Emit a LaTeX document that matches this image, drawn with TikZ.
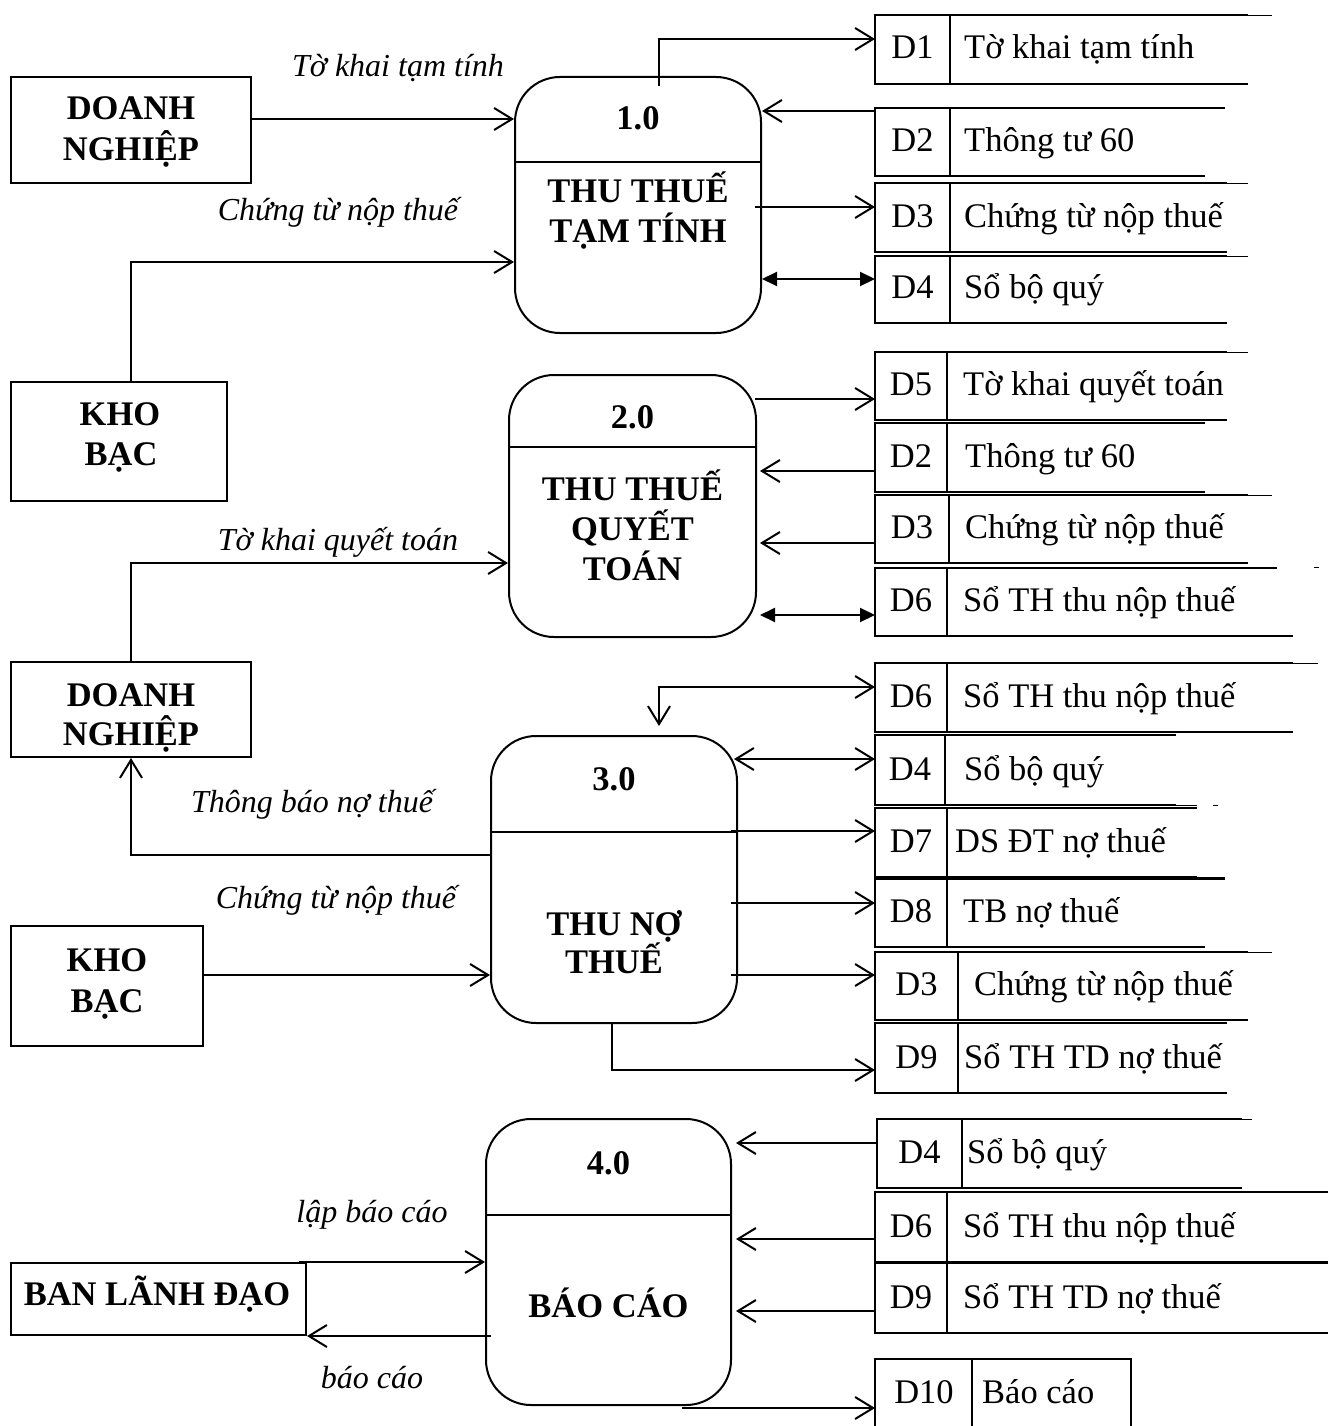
\documentclass[tikz,border=0pt]{standalone}
\usepackage{fontspec}
\setmainfont{Liberation Serif}
\usetikzlibrary{arrows.meta,calc}

% data store: name, left, top, bottom, divider x, top-line end, bottom-line end, id, title
\newcommand\dstore[9]{%
  \node[inner sep=0pt, outer sep=0pt, minimum width={(#6-#2)*1pt},
        minimum height={(#4-#3)*1pt}, anchor=north west] (#1) at (#2,#3) {};
  \draw[ln] (#6,#3) -- (#2,#3) -- (#2,#4) -- (#7,#4);
  \draw[ln] (#5,#3) -- (#5,#4);
  \node[txt, anchor=base] (#1id) at ({(#2+#5)/2},{#4-25}) {#8};
  \node[txt, anchor=base west] (#1tx) at ({#5+16},{#4-25}) {#9};
}

\begin{document}
\begin{tikzpicture}[x=1pt, y=-1pt,
  ln/.style={line width=2pt},
  thinln/.style={line width=0.9pt},
  ent/.style={draw, line width=2pt, inner sep=0pt},
  proc/.style={draw, line width=2pt, rounded corners=45pt, inner sep=0pt},
  txt/.style={font=\fontsize{34.5}{40}\selectfont, inner sep=0pt},
  btxt/.style={font=\fontsize{34.5}{40}\selectfont\bfseries, inner sep=0pt, anchor=base},
  lbl/.style={font=\fontsize{32}{38}\selectfont\itshape, inner sep=0pt, anchor=base},
  flow/.style={line width=2pt, -{Straight Barb[length=18pt,width=22pt]}},
  flowboth/.style={line width=2pt,
     {Straight Barb[length=18pt,width=22pt]}-{Straight Barb[length=18pt,width=22pt]}},
  flowfill/.style={line width=2pt,
     {Triangle[length=15pt,width=14pt]}-{Triangle[length=15pt,width=14pt]}},
]
\fill[white] (0,0) rectangle (1328,1426);
\useasboundingbox (0,0) rectangle (1328,1426);

% ---------- external entities ----------
\node[ent, minimum width=240pt, minimum height=106pt] (e1) at (131,130) {};
\node[btxt] (e1a) at (131,120) {DOANH};
\node[btxt] (e1b) at (131,160) {NGHIỆP};

\node[ent, minimum width=216pt, minimum height=119pt] (e2) at (119,441.5) {};
\node[btxt] (e2a) at (120,425) {KHO};
\node[btxt] (e2b) at (121,465) {BẠC};

\node[ent, minimum width=240pt, minimum height=95pt] (e3) at (131,709.5) {};
\node[btxt] (e3a) at (131,706) {DOANH};
\node[btxt] (e3b) at (131,745) {NGHIỆP};

\node[ent, minimum width=192pt, minimum height=120pt] (e4) at (107,986) {};
\node[btxt] (e4a) at (107,971) {KHO};
\node[btxt] (e4b) at (107,1012) {BẠC};

\node[ent, minimum width=295pt, minimum height=72pt] (e5) at (158.5,1299) {};
\node[btxt] (e5a) at (157,1305) {BAN LÃNH ĐẠO};

% ---------- processes ----------
\node[proc, minimum width=246pt, minimum height=256pt] (p1) at (638,205) {};
\draw[ln] (515,162) -- (761,162);
\node[btxt] (p1n) at (638,130) {1.0};
\node[btxt] (p1a) at (638,202) {THU THUẾ};
\node[btxt] (p1b) at (638,242) {TẠM TÍNH};

\node[proc, minimum width=247pt, minimum height=262pt] (p2) at (632.5,506) {};
\draw[ln] (509,447) -- (756,447);
\node[btxt] (p2n) at (632.5,428) {2.0};
\node[btxt] (p2a) at (632.5,500) {THU THUẾ};
\node[btxt] (p2b) at (632.5,540) {QUYẾT};
\node[btxt] (p2c) at (632.5,580) {TOÁN};

\node[proc, minimum width=246pt, minimum height=287pt] (p3) at (614,879.5) {};
\draw[ln] (491,832) -- (737,832);
\node[btxt] (p3n) at (614,790) {3.0};
\node[btxt] (p3a) at (614,935) {THU NỢ};
\node[btxt] (p3b) at (614,973) {THUẾ};

\node[proc, minimum width=245pt, minimum height=286pt] (p4) at (608.5,1262) {};
\draw[ln] (486,1215) -- (731,1215);
\node[btxt] (p4n) at (608.5,1174) {4.0};
\node[btxt] (p4a) at (608.5,1317) {BÁO CÁO};

% ---------- data stores ----------
\dstore{sA}{875}{15}{84}{950}{1248}{1248}{D1}{\kern-2pt Tờ khai tạm tính}
\dstore{sB}{875}{108}{176}{950}{1225}{1205}{D2}{\kern-2pt Thông tư 60}
\dstore{sC}{875}{183}{252}{950}{1227}{1227}{D3}{\kern-2pt Chứng từ nộp thuế}
\dstore{sD}{875}{256}{323}{950}{1227}{1227}{D4}{\kern-2pt Sổ bộ quý}
\draw[thinln] (1248,15) -- (1272,15);
\draw[thinln] (1227,183) -- (1248,183);
\draw[thinln] (1227,256) -- (1248,256);

\dstore{sE}{875}{352}{420}{947}{1227}{1227}{D5}{Tờ khai quyết toán}
\dstore{sF}{875}{423}{492}{947}{1205}{1205}{D2}{\kern2pt Thông tư 60}
\dstore{sG}{875}{495}{563}{949}{1248}{1248}{D3}{Chứng từ nộp thuế}
\dstore{sH}{875}{568}{636}{947}{1277}{1293}{D6}{Sổ TH thu nộp thuế}
\draw[thinln] (1227,352) -- (1248,352);
\draw[thinln] (1248,495) -- (1272,495);
\draw[thinln] (1314,567) -- (1319,567);

\dstore{sI}{875}{663}{732}{947}{1293}{1293}{D6}{Sổ TH thu nộp thuế}
\dstore{sJ}{875}{735}{805}{945}{1176}{1176}{D4}{\kern3pt Sổ bộ quý}
\dstore{sK}{875}{808}{877}{947}{1197}{1197}{D7}{\kern-8pt DS ĐT nợ thuế}
\dstore{sL}{875}{879}{947}{947}{1225}{1205}{D8}{TB nợ thuế}
\dstore{sM}{875}{952}{1020}{958}{1248}{1248}{D3}{Chứng từ nộp thuế}
\dstore{sN}{875}{1023}{1093}{958}{1227}{1227}{D9}{\kern-10pt Sổ TH TD nợ thuế}
\draw[thinln] (1293,663) -- (1318,663);
\draw[thinln] (1176,805) -- (1197,805);
\draw[thinln] (1213,805) -- (1218,805);
\draw[thinln] (1197,877) -- (1225,877);
\draw[thinln] (1248,952) -- (1272,952);

\dstore{sO}{877}{1119}{1188}{962}{1242}{1242}{D4}{\kern-11pt Sổ bộ quý}
\dstore{sP}{875}{1192}{1262}{947}{1328}{1328}{D6}{Sổ TH thu nộp thuế}
\dstore{sQ}{875}{1263}{1333}{947}{1328}{1328}{D9}{Sổ TH TD nợ thuế}
\draw[thinln] (1242,1119) -- (1252,1119);

% D10 runs past the lower edge
\node[inner sep=0pt, outer sep=0pt, minimum width=256pt, minimum height=71pt,
      anchor=north west] (sR) at (875,1359) {};
\draw[ln] (875,1432) -- (875,1359) -- (1131,1359) -- (1131,1432);
\draw[ln] (972,1359) -- (972,1432);
\node[txt, anchor=base] (sRid) at (924,1403) {D10};
\node[txt, anchor=base west] (sRtx) at (982,1403) {Báo cáo};

% ---------- flow labels ----------
\node[lbl] (l1) at (398,77) {Tờ khai tạm tính};
\node[lbl] (l2) at (338,220) {Chứng từ nộp thuế};
\node[lbl] (l3) at (338,550) {Tờ khai quyết toán};
\node[lbl] (l4) at (312,812) {Thông báo nợ thuế};
\node[lbl] (l5) at (336,908) {Chứng từ nộp thuế};
\node[lbl] (l6) at (372,1222) {lập báo cáo};
\node[lbl] (l7) at (372,1388) {báo cáo};

% ---------- flows: process 1.0 ----------
\draw[flow] ($(e1.east)+(0,-11)$) -- ($(e1.east -| p1.west)+(0,-11)$);
\draw[flow] ($(e2.north)+(12,0)$) |- ($(p1.west)+(0,57)$);
\draw[flow] ($(p1.north)+(21,10)$) |- ($(sA.west)+(0,-10.5)$);
\draw[flow] ($(sB.west)+(0,-31)$) -- ($(sB.west -| p1.east)+(0,-31)$);
\draw[flow] ($(sC.west -| p1.east)+(-7,-10.5)$) -- ($(sC.west)+(0,-10.5)$);
\draw[flowfill] ($(sD.west -| p1.east)+(0,-10.5)$) -- ($(sD.west)+(0,-10.5)$);

% ---------- flows: process 2.0 ----------
\draw[flow] (e3.north) |- ($(p2.west)+(0,57)$);
\draw[flow] ($(sE.west -| p2.east)+(-2,13)$) -- ($(sE.west)+(0,13)$);
\draw[flow] ($(sF.west)+(0,13.5)$) -- ($(sF.west -| p2.east)+(3,13.5)$);
\draw[flow] ($(sG.west)+(0,14)$) -- ($(sG.west -| p2.east)+(3,14)$);
\draw[flowfill] ($(sH.west -| p2.east)+(3,13)$) -- ($(sH.west)+(0,13)$);

% ---------- flows: process 3.0 ----------
\draw[flowboth] ($(p3.north)+(45,-9)$) |- ($(sI.west)+(0,-10.5)$);
\draw[flowboth] ($(sJ.west -| p3.east)+(-4,-11)$) -- ($(sJ.west)+(0,-11)$);
\draw[flow] ($(sK.west -| p3.east)+(-7,-11.5)$) -- ($(sK.west)+(0,-11.5)$);
\draw[flow] ($(sL.west -| p3.east)+(-7,-10)$) -- ($(sL.west)+(0,-10)$);
\draw[flow] ($(sM.west -| p3.east)+(-7,-11)$) -- ($(sM.west)+(0,-11)$);
\draw[flow] ($(p3.south)+(-2,0)$) |- ($(sN.west)+(0,12)$);
\draw[flow] ($(p3.west)+(0,-24.5)$) -| (e3.south);
\draw[flow] ($(e4.east)+(0,-11)$) -- ($(e4.east -| p3.west)+(0,-11)$);

% ---------- flows: process 4.0 ----------
\draw[flow] ($(sO.west)+(0,-10.5)$) -- ($(sO.west -| p4.east)+(4,-10.5)$);
\draw[flow] ($(sP.west)+(0,12)$) -- ($(sP.west -| p4.east)+(4,12)$);
\draw[flow] ($(sQ.west)+(0,13)$) -- ($(sQ.west -| p4.east)+(4,13)$);
\draw[flow] ($(p4.south)+(73.5,2)$) -- ($(p4.south -| sR.west)+(0,2)$);
\draw[flow] ($(e5.north east)+(-8,0)$) -- (e5.north east -| p4.west);
\draw[flow] ($(e5.south east -| p4.west)+(6,0)$) -- (e5.south east);
\end{tikzpicture}
\end{document}
